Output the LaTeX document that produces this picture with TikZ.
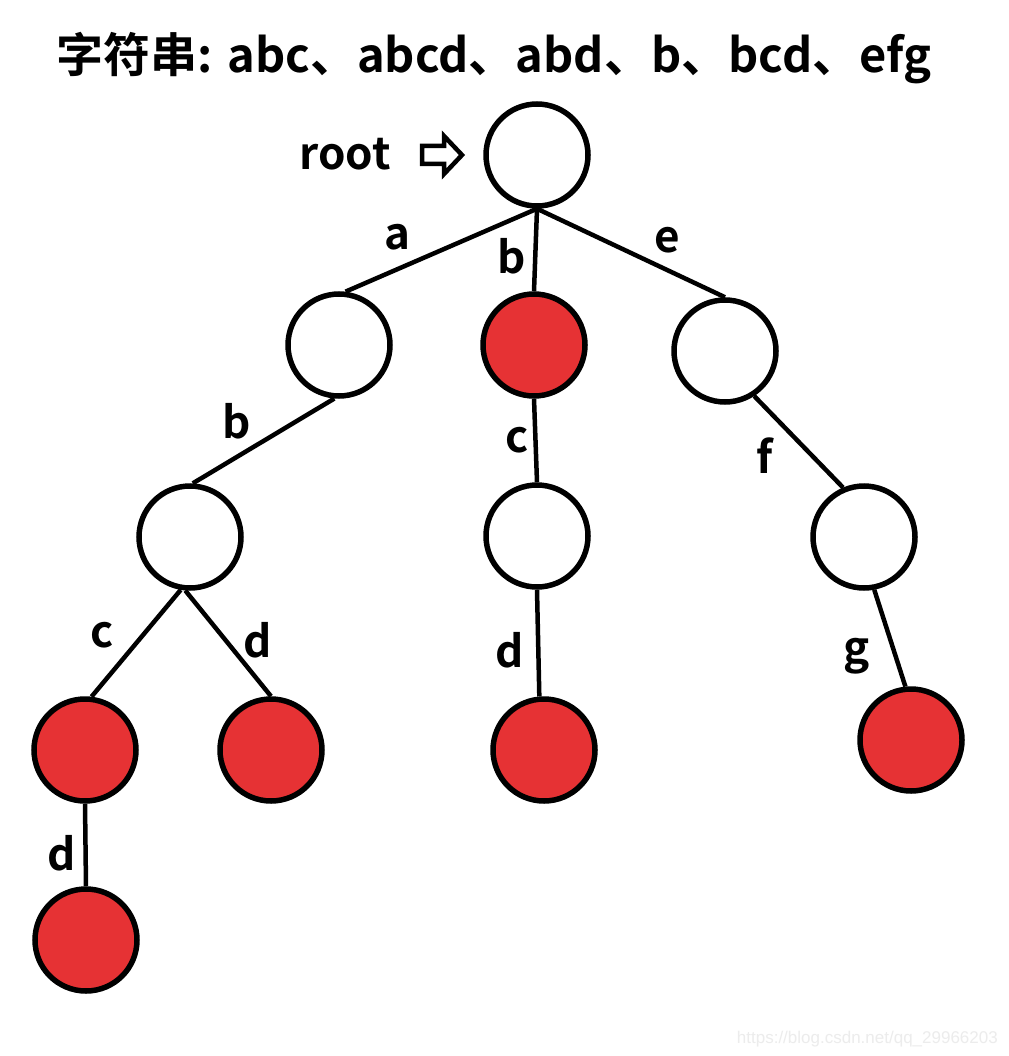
\documentclass[tikz,border=0pt]{standalone}
\usepackage{fontspec}
\setmainfont{Noto Sans CJK SC}[BoldFont={Noto Sans CJK SC Bold}]
\newfontfamily\wmfont{Liberation Sans}
\definecolor{nodered}{RGB}{230,50,52}
\definecolor{wmgrey}{RGB}{236,236,236}
\tikzset{
  trienode/.style={circle,draw=black,line width=5.5pt,minimum size=102pt,inner sep=0pt,fill=white},
  endnode/.style={trienode,fill=nodered},
  link/.style={line width=4.5pt,draw=black},
  lab/.style={font=\bfseries\fontsize{44}{48}\selectfont,anchor=base,inner sep=0pt},
}
\begin{document}
\begin{tikzpicture}[x=1pt,y=-1pt]
\useasboundingbox (0,0) rectangle (1008,1056);
\fill[white] (0,0) rectangle (1008,1056);
% title
\node[font=\bfseries\fontsize{47}{50}\selectfont,anchor=base,inner sep=0pt] (title) at (494,73) {字符串: abc、abcd、abd、b、bcd、efg};
% nodes
\node[trienode] (root) at (537,155) {};
\node[trienode] (na) at (339,345) {};
\node[endnode] (nb) at (534,345) {};
\node[trienode] (ne) at (725,351) {};
\node[trienode] (nab) at (190,537) {};
\node[trienode] (nbc) at (537,536) {};
\node[trienode] (nef) at (864,537) {};
\node[endnode] (nabc) at (85,750) {};
\node[endnode] (nabd) at (271,750) {};
\node[endnode] (nbcd) at (544,750) {};
\node[endnode] (nefg) at (911,740) {};
\node[endnode] (nabcd) at (86,940) {};
% root pointer
\node[lab] (rootlab) at (345,170) {root};
\draw[line width=4.5pt,line join=miter] (422,146) -- (444,146) -- (444,136) -- (462,155) -- (444,174) -- (444,164) -- (422,164) -- cycle;
% edges
\draw[link] (root.south) -- (na.83);
\draw[link] (root.south) -- (nb.north);
\draw[link] (root.south) -- (ne.north);
\draw[link] (na.-95) -- (nab.87);
\draw[link] (nab.-100) -- (nabc.83);
\draw[link] (nab.-95) -- (nabd.north);
\draw[link] (nb.south) -- (nbc.north);
\draw[link] (nbc.south) -- (nbcd.95);
\draw[link] (ne.-57) -- (nef.113);
\draw[link] (nef.-79) -- (nefg.96);
\draw[link] (nabc.south) -- (nabcd.north);
% edge labels
\node[lab] (la) at (397,250) {a};
\node[lab] (lb) at (512,273) {b};
\node[lab] (le) at (667,253) {e};
\node[lab] (lab2) at (237,438) {b};
\node[lab] (lc1) at (102,647) {c};
\node[lab] (ld1) at (258,657) {d};
\node[lab] (lc2) at (517,452) {c};
\node[lab] (ld2) at (510,667) {d};
\node[lab] (lf) at (765,473) {f};
\node[lab] (lg) at (857,663) {g};
\node[lab] (ld3) at (62,870) {d};
% watermark
\node[font=\wmfont\fontsize{17}{20}\selectfont,text=wmgrey,anchor=base east,inner sep=0pt] (wm) at (998,1043) {https://blog.csdn.net/qq\_29966203};
\end{tikzpicture}
\end{document}
